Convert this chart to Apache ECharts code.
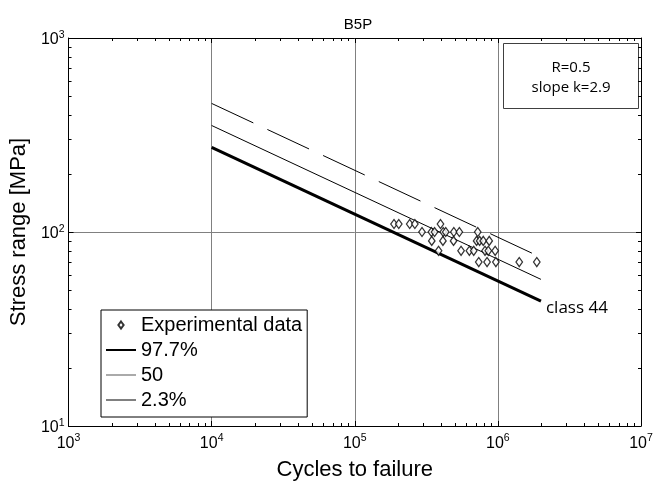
<!DOCTYPE html>
<html>
<head>
<meta charset="utf-8">
<script src="https://cdn.jsdelivr.net/npm/echarts@6/dist/echarts.min.js"></script>
<style>
html,body{margin:0;padding:0;background:#fff;}
#c{width:661px;height:486px;}
</style>
</head>
<body>
<div id="c"></div>
<script>
// ---- data ----
const chartTitle = 'B5P';
const xAxisTitle = 'Cycles to failure';
const yAxisTitle = 'Stress range [MPa]';
const infoLines = ['R=0.5', 'slope k=2.9'];
const classLabel = 'class 44';

const expCycles = [
  1.88e5, 2.03e5, 2.42e5, 2.63e5, 3.97e5,
  2.95e5, 3.43e5, 3.61e5, 4.15e5, 4.32e5, 4.92e5, 5.38e5, 7.23e5,
  3.45e5, 4.13e5, 4.90e5, 7.10e5, 7.45e5, 7.90e5, 8.70e5,
  3.85e5, 5.53e5, 6.32e5, 6.78e5, 8.13e5, 8.57e5, 9.57e5,
  7.35e5, 8.40e5, 9.68e5, 1.41e6, 1.87e6
];
const expStress = [
  110, 110, 110, 110, 110,
  100, 100, 100, 100, 100, 100, 100, 100,
  90, 90, 90, 90, 90, 90, 90,
  80, 80, 80, 80, 80, 80, 80,
  70, 70, 70, 70, 70
];

const lineCycles = [1e4, 2e6];
const stress977 = [273, 44];
const stress50 = [354, 57];
const stress23 = [460, 74];

const seriesNames = ['Experimental data', '97.7%', '50', '2.3%'];

const xMin = 1e3, xMax = 1e7, yMin = 10, yMax = 1e3;
const xMinorTicks = [2e3,3e3,4e3,5e3,6e3,7e3,8e3,9e3,
  2e4,3e4,4e4,5e4,6e4,7e4,8e4,9e4,
  2e5,3e5,4e5,5e5,6e5,7e5,8e5,9e5,
  2e6,3e6,4e6,5e6,6e6,7e6,8e6,9e6];
const yMinorTicks = [20,30,40,50,60,70,80,90,200,300,400,500,600,700,800,900];

// ---- build ----
const pairs = (xs, ys) => xs.map((x, i) => [x, ys[i]]);
const FONT = '"Liberation Sans", Arial, Helvetica, sans-serif';
const FONT2 = '"Open Sans", "Liberation Sans", sans-serif';

function powLabel(v) {
  return '{b|10}{s|' + Math.round(Math.log10(v)) + '}';
}

const chart = echarts.init(document.getElementById('c'), null, {renderer: 'canvas'});

function minorXRender(params, api) {
  const p = api.coord([api.value(0), 100]);
  const cs = params.coordSys;
  const x = Math.round(p[0]) + 0.5;
  const b = cs.y + cs.height, t = cs.y;
  return {type: 'group', silent: true, children: [
    {type: 'line', shape: {x1: x, y1: b, x2: x, y2: b - 3}, style: {stroke: '#000', lineWidth: 1}},
    {type: 'line', shape: {x1: x, y1: t, x2: x, y2: t + 3}, style: {stroke: '#000', lineWidth: 1}}
  ]};
}
function minorYRender(params, api) {
  const p = api.coord([1e5, api.value(1)]);
  const cs = params.coordSys;
  const y = Math.round(p[1]) + 0.5;
  const l = cs.x, r = cs.x + cs.width;
  return {type: 'group', silent: true, children: [
    {type: 'line', shape: {x1: l, y1: y, x2: l + 3, y2: y}, style: {stroke: '#000', lineWidth: 1}},
    {type: 'line', shape: {x1: r, y1: y, x2: r - 3, y2: y}, style: {stroke: '#000', lineWidth: 1}}
  ]};
}

const axisBase = {
  type: 'log', logBase: 10,
  axisLine: {show: true, onZero: false, lineStyle: {color: '#000', width: 1}},
  axisTick: {show: true, inside: true, length: 5, lineStyle: {color: '#000', width: 1}},
  minorTick: {show: false}
};

const option = {
  backgroundColor: '#fff',
  animation: false,
  title: {
    text: chartTitle, left: 353, top: 12, textAlign: 'center',
    textStyle: {fontFamily: FONT, fontSize: 15, fontWeight: 'normal', color: '#000'}
  },
  grid: {left: 65, top: 38, width: 576, height: 393, containLabel: false},
  xAxis: [
    Object.assign({}, axisBase, {
      min: xMin, max: xMax, position: 'bottom',
      name: xAxisTitle, nameLocation: 'middle', nameGap: 33,
      nameTextStyle: {fontFamily: FONT, fontSize: 22, lineHeight: 22, color: '#000'},
      splitLine: {show: true, lineStyle: {color: '#808080', width: 1}},
      axisLabel: {
        margin: 7, formatter: powLabel, color: '#000',
        rich: {
          b: {fontFamily: FONT, fontSize: 16, lineHeight: 16, padding: [6, 0, 0, 0], color: '#000'},
          s: {fontFamily: FONT, fontSize: 10.5, lineHeight: 10, verticalAlign: 'top', color: '#000'}
        }
      }
    }),
    Object.assign({}, axisBase, {
      min: xMin, max: xMax, position: 'top',
      splitLine: {show: false}, axisLabel: {show: false}
    })
  ],
  yAxis: [
    Object.assign({}, axisBase, {
      min: yMin, max: yMax, position: 'left',
      name: yAxisTitle, nameLocation: 'middle', nameGap: 38,
      nameTextStyle: {fontFamily: FONT, fontSize: 22, lineHeight: 22, color: '#000'},
      splitLine: {show: true, lineStyle: {color: '#808080', width: 1}},
      axisLabel: {
        margin: 4, formatter: powLabel, color: '#000',
        rich: {
          b: {fontFamily: FONT, fontSize: 16, lineHeight: 16, padding: [3, 0, 0, 0], color: '#000'},
          s: {fontFamily: FONT, fontSize: 10.5, lineHeight: 10, verticalAlign: 'top', color: '#000'}
        }
      }
    }),
    Object.assign({}, axisBase, {
      min: yMin, max: yMax, position: 'right',
      splitLine: {show: false}, axisLabel: {show: false}
    })
  ],
  legend: {
    orient: 'vertical', left: 101, top: 310,
    padding: [5, 5, 7, 5], itemGap: 5, itemWidth: 30, itemHeight: 7,
    backgroundColor: '#fff', borderColor: '#000', borderWidth: 1,
    textStyle: {fontFamily: FONT, fontSize: 20, lineHeight: 20, color: '#000'},
    data: [
      {name: seriesNames[0], icon: 'path://M3 0L6 4L3 8L0 4Z'},
      {name: seriesNames[1], icon: 'path://M0 0H30V2H0Z', itemStyle: {color: '#000'}},
      {name: seriesNames[2], icon: 'path://M0 0H30V1H0Z', itemStyle: {color: '#555'}},
      {name: seriesNames[3], icon: 'path://M0 0H30V1H0Z', itemStyle: {color: '#000'}}
    ]
  },
  series: [
    {
      name: seriesNames[0], type: 'scatter', z: 5,
      data: pairs(expCycles, expStress),
      symbol: 'diamond', symbolSize: [6.5, 9],
      itemStyle: {color: '#fff', borderColor: '#000', borderWidth: 1.3}
    },
    {
      name: seriesNames[1], type: 'line', z: 4,
      data: pairs(lineCycles, stress977), symbol: 'none',
      lineStyle: {color: '#000', width: 3},
      itemStyle: {color: '#000'},
      endLabel: {
        show: true, formatter: classLabel, distance: 5, offset: [0, 7],
        fontFamily: FONT2, fontSize: 17, color: '#000'
      }
    },
    {
      name: seriesNames[2], type: 'line', z: 4,
      data: pairs(lineCycles, stress50), symbol: 'none',
      lineStyle: {color: '#000', width: 1},
      itemStyle: {color: '#000'}
    },
    {
      name: seriesNames[3], type: 'line', z: 4,
      data: pairs(lineCycles, stress23), symbol: 'none',
      lineStyle: {color: '#000', width: 1, type: [46, 15.5]},
      itemStyle: {color: '#000'}
    },
    {
      type: 'custom', silent: true, z: 6, clip: false,
      renderItem: minorXRender,
      data: xMinorTicks.map(v => [v, 100])
    },
    {
      type: 'custom', silent: true, z: 6, clip: false,
      renderItem: minorYRender,
      data: yMinorTicks.map(v => [1e5, v])
    }
  ],
  graphic: [
    {
      type: 'group', left: 503, top: 43, z: 100,
      children: [
        {type: 'rect', shape: {x: 0, y: 0, width: 135, height: 65},
         style: {fill: '#fff', stroke: '#404040', lineWidth: 1}},
        {type: 'text', x: 67.5, y: 24,
         style: {text: infoLines[0], align: 'center', verticalAlign: 'middle',
                 font: '15px ' + FONT2, fill: '#000'}},
        {type: 'text', x: 67.5, y: 44,
         style: {text: infoLines[1], align: 'center', verticalAlign: 'middle',
                 font: '15px ' + FONT2, fill: '#000'}}
      ]
    }
  ]
};
chart.setOption(option);
</script>
</body>
</html>
